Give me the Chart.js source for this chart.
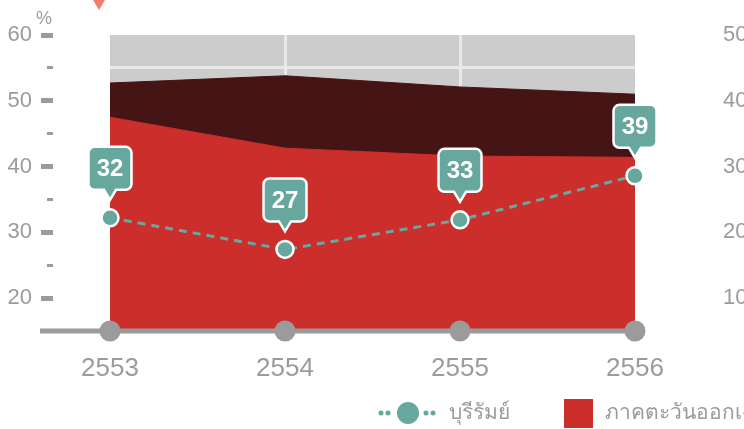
<!DOCTYPE html>
<html>
<head>
<meta charset="utf-8">
<script src="https://cdn.jsdelivr.net/npm/chart.js@4/dist/chart.umd.min.js"></script>
<style>
html, body { margin: 0; padding: 0; background: #fff; }
</style>
</head>
<body>
<canvas id="chart" width="744" height="429"></canvas>
<script>
// data
var years = ['2553', '2554', '2555', '2556'];
var buriram = [32.2, 27.4, 31.9, 38.6];
var buriramLabels = ['32', '27', '33', '39'];
var northeast = [37.5, 32.8, 31.6, 31.4];
var country = [42.7, 43.8, 42.1, 41.0];
var leftLabels = [20, 30, 40, 50, 60];
var rightLabels = [10, 20, 30, 40, 50];

var teal = '#67a79d';
var red = '#cc2e2b';
var dark = '#451414';
var grey = '#9b9b9b';
var gridWhite = '#e9e9e9';
var family = '"Liberation Sans", Arial, "Noto Sans", sans-serif';

function isMajor(c) {
  return c.tick && c.tick.value % 10 === 0;
}

// no white line on the outer edge of the grey box
function innerGrid(c) {
  var n = c.scale.ticks.length;
  return c.index === 0 || c.index === n - 1 ? 'rgba(0,0,0,0)' : gridWhite;
}

var decor = {
  id: 'decor',
  beforeDraw: function(chart) {
    var a = chart.chartArea, ctx = chart.ctx;
    ctx.save();
    ctx.fillStyle = '#cccccc';
    ctx.fillRect(a.left, a.top, a.right - a.left, a.bottom - a.top);
    ctx.restore();
  },
  afterDraw: function(chart) {
    var a = chart.chartArea, ctx = chart.ctx;
    var xs = chart.scales.x;
    ctx.save();

    // baseline + grey dots
    ctx.strokeStyle = grey;
    ctx.lineWidth = 5;
    ctx.beginPath();
    ctx.moveTo(a.left - 70, a.bottom);
    ctx.lineTo(a.right, a.bottom);
    ctx.stroke();
    ctx.fillStyle = grey;
    years.forEach(function(y, i) {
      ctx.beginPath();
      ctx.arc(xs.getPixelForValue(i), a.bottom, 10.5, 0, Math.PI * 2);
      ctx.fill();
    });

    // percent sign + marker
    ctx.fillStyle = grey;
    ctx.font = '18px ' + family;
    ctx.textAlign = 'center';
    ctx.textBaseline = 'middle';
    ctx.fillText('%', a.left - 66, 19);
    var mx = xs.getPixelForValue(0) - 11;
    ctx.fillStyle = '#ef7f6a';
    ctx.beginPath();
    ctx.moveTo(mx - 6, 0);
    ctx.lineTo(mx + 6, 0);
    ctx.lineTo(mx, 10);
    ctx.closePath();
    ctx.fill();

    // callouts
    var meta = chart.getDatasetMeta(0);
    meta.data.forEach(function(pt, i) {
      var x = pt.x, y = pt.y;
      var w = 43, h = 43, r = 6;
      var l = x - w / 2, t = y - 71, b = t + h, rr = l + w;
      ctx.beginPath();
      ctx.moveTo(l + r, t);
      ctx.lineTo(rr - r, t);
      ctx.arcTo(rr, t, rr, t + r, r);
      ctx.lineTo(rr, b - r);
      ctx.arcTo(rr, b, rr - r, b, r);
      ctx.lineTo(x + 6, b);
      ctx.lineTo(x, b + 10);
      ctx.lineTo(x - 6, b);
      ctx.lineTo(l + r, b);
      ctx.arcTo(l, b, l, b - r, r);
      ctx.lineTo(l, t + r);
      ctx.arcTo(l, t, l + r, t, r);
      ctx.closePath();
      ctx.fillStyle = teal;
      ctx.fill();
      ctx.strokeStyle = '#fff';
      ctx.lineWidth = 2.5;
      ctx.stroke();
      ctx.fillStyle = '#fff';
      ctx.font = 'bold 24px ' + family;
      ctx.textAlign = 'center';
      ctx.textBaseline = 'middle';
      ctx.fillText(buriramLabels[i], x, t + h / 2 + 1);
    });

    // legend
    var ly = 413;
    ctx.fillStyle = teal;
    [381, 388, 426, 433].forEach(function(dx) {
      ctx.beginPath();
      ctx.arc(dx, ly, 2.5, 0, Math.PI * 2);
      ctx.fill();
    });
    ctx.beginPath();
    ctx.arc(408, ly, 11, 0, Math.PI * 2);
    ctx.fill();
    ctx.fillStyle = grey;
    ctx.font = '21px ' + family;
    ctx.textAlign = 'left';
    ctx.textBaseline = 'middle';
    ctx.fillText(chart.data.datasets[0].label, 449, ly);
    ctx.fillStyle = red;
    ctx.fillRect(564, 399, 29, 29);
    ctx.fillStyle = grey;
    ctx.fillText(chart.data.datasets[1].label, 605, ly);
    ctx.restore();
  }
};

new Chart(document.getElementById('chart'), {
  type: 'line',
  data: {
    labels: years,
    datasets: [{
      label: 'บุรีรัมย์',
      data: buriram,
      yAxisID: 'y',
      order: 0,
      borderColor: teal,
      borderWidth: 3,
      borderDash: [8, 6],
      pointRadius: 8.5,
      pointBackgroundColor: teal,
      pointBorderColor: '#fff',
      pointBorderWidth: 2.5,
      fill: false,
      tension: 0
    }, {
      label: 'ภาคตะวันออกเฉียงเหนือ',
      data: northeast,
      yAxisID: 'y2',
      order: 1,
      backgroundColor: red,
      borderColor: red,
      borderWidth: 1,
      pointRadius: 0,
      fill: 'start',
      tension: 0
    }, {
      label: 'ประเทศไทย',
      data: country,
      yAxisID: 'y2',
      order: 2,
      backgroundColor: dark,
      borderColor: dark,
      borderWidth: 1,
      pointRadius: 0,
      fill: 'start',
      tension: 0
    }]
  },
  options: {
    responsive: false,
    animation: false,
    events: [],
    layout: { padding: { top: 35, left: 0, right: 0, bottom: 0 } },
    plugins: {
      legend: { display: false },
      tooltip: { enabled: false }
    },
    scales: {
      x: {
        offset: false,
        border: { display: false },
        grid: { color: innerGrid, lineWidth: 3, drawTicks: false },
        ticks: { color: grey, font: { family: family, size: 26 }, padding: 22, maxRotation: 0 },
        afterFit: function(s) { s.height = 98; }
      },
      y: {
        position: 'left',
        min: 15,
        max: 60,
        border: { display: false },
        grid: {
          color: innerGrid,
          lineWidth: 3,
          tickLength: 69,
          tickColor: grey,
          tickWidth: function(c) { return isMajor(c) ? 5 : 3; },
          tickBorderDash: function(c) { return isMajor(c) ? [12, 200] : [0, 6, 6, 200]; }
        },
        ticks: {
          stepSize: 5,
          autoSkip: false,
          padding: 9,
          color: grey,
          font: { family: family, size: 22 },
          callback: function(v) { return leftLabels.indexOf(v) >= 0 ? v : ''; }
        },
        afterFit: function(s) { s.width = 110; }
      },
      y2: {
        position: 'right',
        min: 5,
        max: 50,
        border: { display: false },
        grid: { drawOnChartArea: false, tickLength: 80, tickColor: 'rgba(0,0,0,0)' },
        ticks: {
          stepSize: 5,
          autoSkip: false,
          padding: 8,
          color: grey,
          font: { family: family, size: 22 },
          callback: function(v) { return rightLabels.indexOf(v) >= 0 ? v : ''; }
        },
        afterFit: function(s) { s.width = 109; }
      }
    }
  },
  plugins: [decor]
});
</script>
</body>
</html>
